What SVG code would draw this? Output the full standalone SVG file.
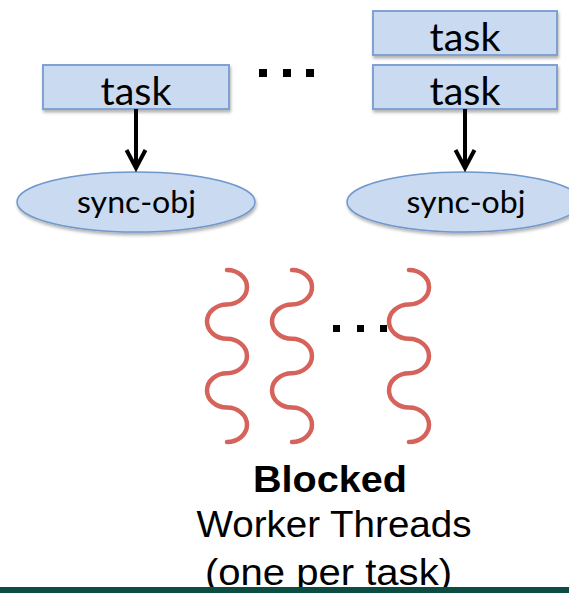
<svg xmlns="http://www.w3.org/2000/svg" width="569" height="593" viewBox="0 0 569 593">
<style>
.box{fill:#c9daf1;stroke:#7fa2d2;stroke-width:2}
.ell{fill:#c9daf1;stroke:#6f98cc;stroke-width:1.5}
.lbl{font-family:Lato,"Open Sans",sans-serif;fill:#000;text-anchor:middle}
.task{font-size:39px}
.sync{font-size:31px}
.wave{fill:none;stroke:#d5625b;stroke-width:4.5;stroke-linecap:round}
.arrow{stroke:#000;stroke-width:4;fill:none}
.cap{font-family:"Liberation Sans",Arial,sans-serif;font-size:37px;fill:#000;text-anchor:middle}
.dot{fill:#000}
</style>
<defs>
<filter id="sh" x="-10%" y="-20%" width="120%" height="160%">
<feDropShadow dx="1" dy="2.5" stdDeviation="1.5" flood-color="#000" flood-opacity="0.3"/>
</filter>
<marker id="ah" viewBox="-22 -12 25 24" refX="0" refY="0" markerWidth="25" markerHeight="24" markerUnits="userSpaceOnUse" orient="auto" overflow="visible">
<path d="M-18,-9.5 L0,0 L-18,9.5" fill="none" stroke="#000" stroke-width="4" stroke-linejoin="miter"/>
</marker>
</defs>

<g id="task-left">
<rect class="box" x="43" y="65" width="186" height="44" filter="url(#sh)"/>
<text class="lbl task" x="136" y="105" textLength="71" lengthAdjust="spacingAndGlyphs">task</text>
</g>
<g id="task-right-top">
<rect class="box" x="373" y="11" width="184" height="44" filter="url(#sh)"/>
<text class="lbl task" x="465" y="51" textLength="71" lengthAdjust="spacingAndGlyphs">task</text>
</g>
<g id="task-right-bottom">
<rect class="box" x="373" y="65" width="184" height="44" filter="url(#sh)"/>
<text class="lbl task" x="465" y="105" textLength="71" lengthAdjust="spacingAndGlyphs">task</text>
</g>

<g id="sync-left">
<ellipse class="ell" cx="136" cy="202" rx="119" ry="30" filter="url(#sh)"/>
<text class="lbl sync" x="136.5" y="213" textLength="119" lengthAdjust="spacingAndGlyphs">sync-obj</text>
</g>
<g id="sync-right">
<ellipse class="ell" cx="464" cy="202" rx="117" ry="30" filter="url(#sh)"/>
<text class="lbl sync" x="466" y="213" textLength="119" lengthAdjust="spacingAndGlyphs">sync-obj</text>
</g>

<g id="connectors">
<line class="arrow" x1="136" y1="109" x2="136" y2="168" marker-end="url(#ah)"/>
<line class="arrow" x1="465" y1="109" x2="465" y2="168" marker-end="url(#ah)"/>
</g>

<g id="ellipsis-top">
<rect class="dot" x="259" y="69" width="8" height="8"/>
<rect class="dot" x="283" y="69" width="8" height="8"/>
<rect class="dot" x="306" y="69" width="8" height="8"/>
</g>

<g id="threads">
<path class="wave" d="M227,270 a20,17.2 0 0 1 0,34.4 a20,17.2 0 0 0 0,34.4 a20,17.2 0 0 1 0,34.4 a20,17.2 0 0 0 0,34.4 a20,17.2 0 0 1 0,34.4"/>
<path class="wave" d="M292,270 a20,17.2 0 0 1 0,34.4 a20,17.2 0 0 0 0,34.4 a20,17.2 0 0 1 0,34.4 a20,17.2 0 0 0 0,34.4 a20,17.2 0 0 1 0,34.4"/>
<path class="wave" d="M409,270 a20,17.2 0 0 1 0,34.4 a20,17.2 0 0 0 0,34.4 a20,17.2 0 0 1 0,34.4 a20,17.2 0 0 0 0,34.4 a20,17.2 0 0 1 0,34.4"/>
</g>

<g id="ellipsis-threads">
<rect class="dot" x="333" y="325" width="7" height="7"/>
<rect class="dot" x="357" y="325" width="7" height="7"/>
<rect class="dot" x="380" y="325" width="7" height="7"/>
</g>

<g id="caption">
<text class="cap" x="330" y="492" font-weight="bold" textLength="154" lengthAdjust="spacingAndGlyphs">Blocked</text>
<text class="cap" x="334" y="537" textLength="275" lengthAdjust="spacingAndGlyphs">Worker Threads</text>
<text class="cap" x="328.5" y="585" textLength="247" lengthAdjust="spacingAndGlyphs">(one per task)</text>
</g>

<rect x="0" y="587" width="569" height="6" fill="#0c4c42"/>
</svg>
